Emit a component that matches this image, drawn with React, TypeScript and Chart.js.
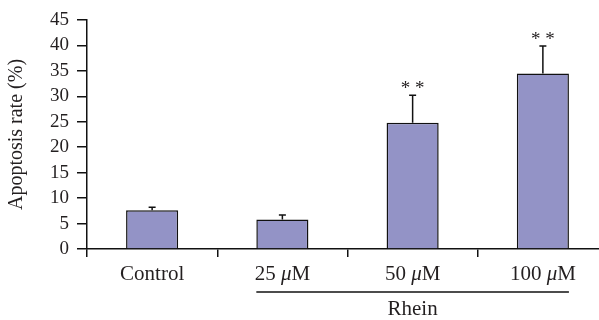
import React, { useEffect, useRef } from "react";
import { Chart, registerables } from "chart.js";

Chart.register(...registerables);

const categories = ["Control", "25 μM", "50 μM", "100 μM"];
const apoptosisRate = [7.6, 5.8, 24.8, 34.5];
const errorUpper = [0.6, 0.9, 5.4, 5.4];
const significance = ["", "", "**", "**"];
const groupLabel = "Rhein";
const groupFirstIndex = 1;
const groupLastIndex = 3;
const yMin = 0;
const yMax = 45;
const yStep = 5;
const yTitle = "Apoptosis rate (%)";

const FONT = "'Liberation Serif', 'DejaVu Serif', serif";
const TEXT = "#231f20";

function drawMixedLabel(ctx: CanvasRenderingContext2D, text: string, cx: number, cy: number, size: number) {
  const parts: { t: string; italic: boolean }[] = [];
  for (const ch of text) {
    const it = ch === "μ";
    if (parts.length && parts[parts.length - 1].italic === it) parts[parts.length - 1].t += ch;
    else parts.push({ t: ch, italic: it });
  }
  let total = 0;
  const widths: number[] = [];
  for (const p of parts) {
    ctx.font = `${p.italic ? "italic " : ""}${size}px ${FONT}`;
    const w = ctx.measureText(p.t).width;
    widths.push(w);
    total += w;
  }
  let x = cx - total / 2;
  ctx.textAlign = "left";
  ctx.textBaseline = "middle";
  parts.forEach((p, i) => {
    ctx.font = `${p.italic ? "italic " : ""}${size}px ${FONT}`;
    ctx.fillText(p.t, x, cy);
    x += widths[i];
  });
}

const annotationsPlugin = {
  id: "annotations",
  afterDatasetsDraw(chart: any) {
    const ctx: CanvasRenderingContext2D = chart.ctx;
    const yScale = chart.scales.y;
    const xScale = chart.scales.x;
    const meta = chart.getDatasetMeta(0);
    ctx.save();
    ctx.strokeStyle = "#111";
    ctx.lineWidth = 1.5;
    meta.data.forEach((el: any, i: number) => {
      const x = el.x;
      const yTop = el.y;
      const yErr = yScale.getPixelForValue(apoptosisRate[i] + errorUpper[i]);
      ctx.beginPath();
      ctx.moveTo(x, yTop);
      ctx.lineTo(x, yErr);
      ctx.moveTo(x - 3.5, yErr);
      ctx.lineTo(x + 3.5, yErr);
      ctx.stroke();
      if (significance[i]) {
        ctx.fillStyle = TEXT;
        ctx.font = `19px ${FONT}`;
        ctx.textAlign = "center";
        ctx.textBaseline = "alphabetic";
        ctx.fillText(significance[i].split("").join(" "), x, yErr - 1);
      }
    });
    // x labels
    ctx.fillStyle = TEXT;
    const baseY = chart.chartArea.bottom;
    categories.forEach((c, i) => {
      drawMixedLabel(ctx, c, xScale.getPixelForValue(i), baseY + 25, 21);
    });
    // group line
    const first = meta.data[groupFirstIndex];
    const last = meta.data[groupLastIndex];
    const x1 = first.x - first.width / 2;
    const x2 = last.x + last.width / 2;
    const ly = baseY + 43;
    ctx.strokeStyle = "#111";
    ctx.lineWidth = 1.5;
    ctx.beginPath();
    ctx.moveTo(x1, ly);
    ctx.lineTo(x2, ly);
    ctx.stroke();
    ctx.font = `21px ${FONT}`;
    ctx.textAlign = "center";
    ctx.textBaseline = "middle";
    ctx.fillText(groupLabel, (x1 + x2) / 2, baseY + 60);
    ctx.restore();
  },
};

export default function App() {
  const ref = useRef<HTMLCanvasElement>(null);
  useEffect(() => {
    document.body.style.margin = "0";
    document.body.style.overflow = "hidden";
    document.documentElement.style.overflow = "hidden";
    const chart = new Chart(ref.current!, {
      type: "bar",
      data: {
        labels: categories,
        datasets: [
          {
            data: apoptosisRate,
            backgroundColor: "#9393c6",
            borderColor: "#111",
            borderWidth: 1.5,
            barPercentage: 0.4,
            categoryPercentage: 1,
          },
        ],
      },
      options: {
        animation: false,
        responsive: false,
        devicePixelRatio: 1,
        layout: { padding: { top: 20, right: 0, bottom: 0, left: 0 } },
        plugins: { legend: { display: false }, tooltip: { enabled: false } },
        scales: {
          x: {
            offset: true,
            grid: {
              offset: true,
              drawOnChartArea: false,
              drawTicks: true,
              tickLength: 8,
              color: "#111",
              lineWidth: 1.5,
            },
            border: { display: true, color: "#111", width: 1.5 },
            ticks: { display: false },
            afterFit(scale: any) {
              scale.height = 71;
            },
          },
          y: {
            min: yMin,
            max: yMax,
            ticks: {
              stepSize: yStep,
              autoSkip: false,
              color: TEXT,
              font: { family: FONT, size: 19 },
              padding: 8,
            },
            grid: {
              drawOnChartArea: false,
              drawTicks: true,
              tickLength: 10,
              color: "#111",
              lineWidth: 1.5,
            },
            border: { display: true, color: "#111", width: 1.5 },
            title: {
              display: true,
              text: yTitle,
              color: TEXT,
              font: { family: FONT, size: 20 },
              padding: { top: 5, bottom: 2 },
            },
            afterFit(scale: any) {
              scale.width = 87;
            },
          },
        },
      },
      plugins: [annotationsPlugin],
    });
    return () => chart.destroy();
  }, []);
  return <canvas ref={ref} width={608} height={320} style={{ display: "block" }} />;
}
